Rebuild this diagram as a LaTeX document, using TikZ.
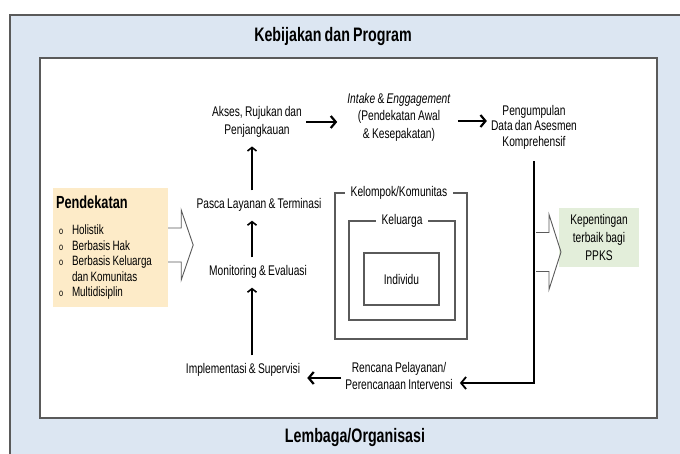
\documentclass[tikz,border=0pt]{standalone}
\usepackage{fontspec}
\setmainfont{Liberation Sans}[FakeStretch=0.73, WordSpace=0.8]
\usetikzlibrary{arrows.meta,calc}
\definecolor{panelblue}{HTML}{DCE6F2}
\definecolor{framegray}{HTML}{5A5A5A}
\definecolor{approachfill}{HTML}{FDEBC8}
\definecolor{goalfill}{HTML}{E3EEDA}
\newcommand{\bulletmark}{\makebox[16pt][l]{\hspace{3pt}{\fontsize{10}{10}\selectfont o}}}
\newcommand{\openarrow}[3]{%
  \draw[bigarrow] (#1) ++(0,-#2) -- ++(13,0) -- ++(0,#2-#3) -- ++(12,#3) -- ++(-12,#3) -- ++(0,#2-#3) -- ++(-13,0);}
\tikzset{
  stage/.style={align=center, inner sep=4pt, font=\fontsize{14}{17.5}\selectfont},
  heading/.style={font=\fontsize{19.5}{21}\selectfont\bfseries, inner sep=2pt},
  approach/.style={fill=approachfill, align=flush left, text width=109pt, inner xsep=3pt, minimum height=119pt, font=\fontsize{13.5}{15.5}\selectfont},
  goal/.style={fill=goalfill, align=center, minimum width=80pt, minimum height=59pt, inner sep=2pt, font=\fontsize{14}{18}\selectfont},
  ring/.style={draw=framegray, line width=1.1pt},
  ringtitle/.style={fill=white, inner xsep=6pt, inner ysep=1pt, font=\fontsize{14}{15}\selectfont},
  arrow/.style={-{Straight Barb[length=5pt, width=12pt]}, line width=2.2pt},
  uparrow/.style={-{Straight Barb[length=3.5pt, width=9pt]}, line width=1.6pt, shorten <=4pt, shorten >=5pt},
  bigarrow/.style={draw=framegray, line width=0.9pt, line join=miter}
}
\begin{document}
\begin{tikzpicture}[x=1pt, y=-1pt]
  \useasboundingbox (0,0) rectangle (680,454);
  % frames
  \draw[fill=panelblue, draw=framegray, line width=1.4pt] (10,15) rectangle (700,470);
  \draw[fill=white, draw=framegray, line width=1.1pt] (40,58) rectangle (657,418);
  \node[heading] (kebijakan) at (333,37) {Kebijakan dan Program};
  \node[heading] (lembaga) at (355,438) {Lembaga/Organisasi};

  % approach and goal
  \node[approach] (pendekatan) at (110.5,247.5) {{\fontsize{17.5}{19}\selectfont\bfseries Pendekatan}\\[11pt]
    \bulletmark Holistik\\
    \bulletmark Berbasis Hak\\
    \bulletmark Berbasis Keluarga\\
    \hspace*{16pt}dan Komunitas\\
    \bulletmark Multidisiplin};
  \node[goal] (kepentingan) at (599,237.5) {Kepentingan\\terbaik bagi\\PPKS};
  \openarrow{pendekatan.east |- 0,245}{17}{35}
  \coordinate (goaltail) at (536,252);
  \openarrow{goaltail}{19.5}{37.5}

  % cycle
  \node[stage] (akses) at (257,122) {Akses, Rujukan dan\\Penjangkauan};
  \node[stage] (intake) at (399,117) {\textit{Intake} \& \textit{Enggagement}\\(Pendekatan Awal\\\& Kesepakatan)};
  \node[stage, font=\fontsize{14}{15.5}\selectfont] (pengumpulan) at (534,127) {Pengumpulan\\Data dan Asesmen\\Komprehensif};
  \node[stage] (rencana) at (399,376) {Rencana Pelayanan/\\Perencanaan Intervensi};
  \node[stage] (implementasi) at (243,370) {Implementasi \& Supervisi};
  \node[stage] (monitoring) at (258,272) {Monitoring \& Evaluasi};
  \node[stage] (pasca) at (259,205) {Pasca Layanan \& Terminasi};
  \coordinate (column) at (252,0);

  \draw[arrow, shorten >=6pt] (akses.east) -- (akses.east -| intake.west);
  \draw[arrow, shorten <=3pt] (intake.east |- 0,121) -- (pengumpulan.west |- 0,121);
  \draw[arrow, line width=1.8pt, shorten <=8pt, shorten >=3pt] (pengumpulan.south) |- ($(rencana.east)+(0,7)$);
  \draw[arrow, shorten >=3pt] ($(rencana.west)+(0,2)$) -- ($(rencana.west -| implementasi.east)+(0,2)$);
  \draw[uparrow] (implementasi.north -| column) -- (monitoring.south -| column);
  \draw[uparrow] (monitoring.north -| column) -- (pasca.south -| column);
  \draw[uparrow] (pasca.north -| column) -- (akses.south -| column);

  % nested levels
  \node[ring, minimum width=132pt, minimum height=146pt] (komunitas) at (401,266) {};
  \node[ring, minimum width=106pt, minimum height=99pt] (keluarga) at (402,270.5) {};
  \node[ring, minimum width=75pt, minimum height=52pt, font=\fontsize{14}{15}\selectfont] (individu) at (401.5,279) {Individu};
  \node[ringtitle] (komunitastitle) at (399,193) {Kelompok/Komunitas};
  \node[ringtitle] (keluargatitle) at (402,221) {Keluarga};
\end{tikzpicture}
\end{document}
